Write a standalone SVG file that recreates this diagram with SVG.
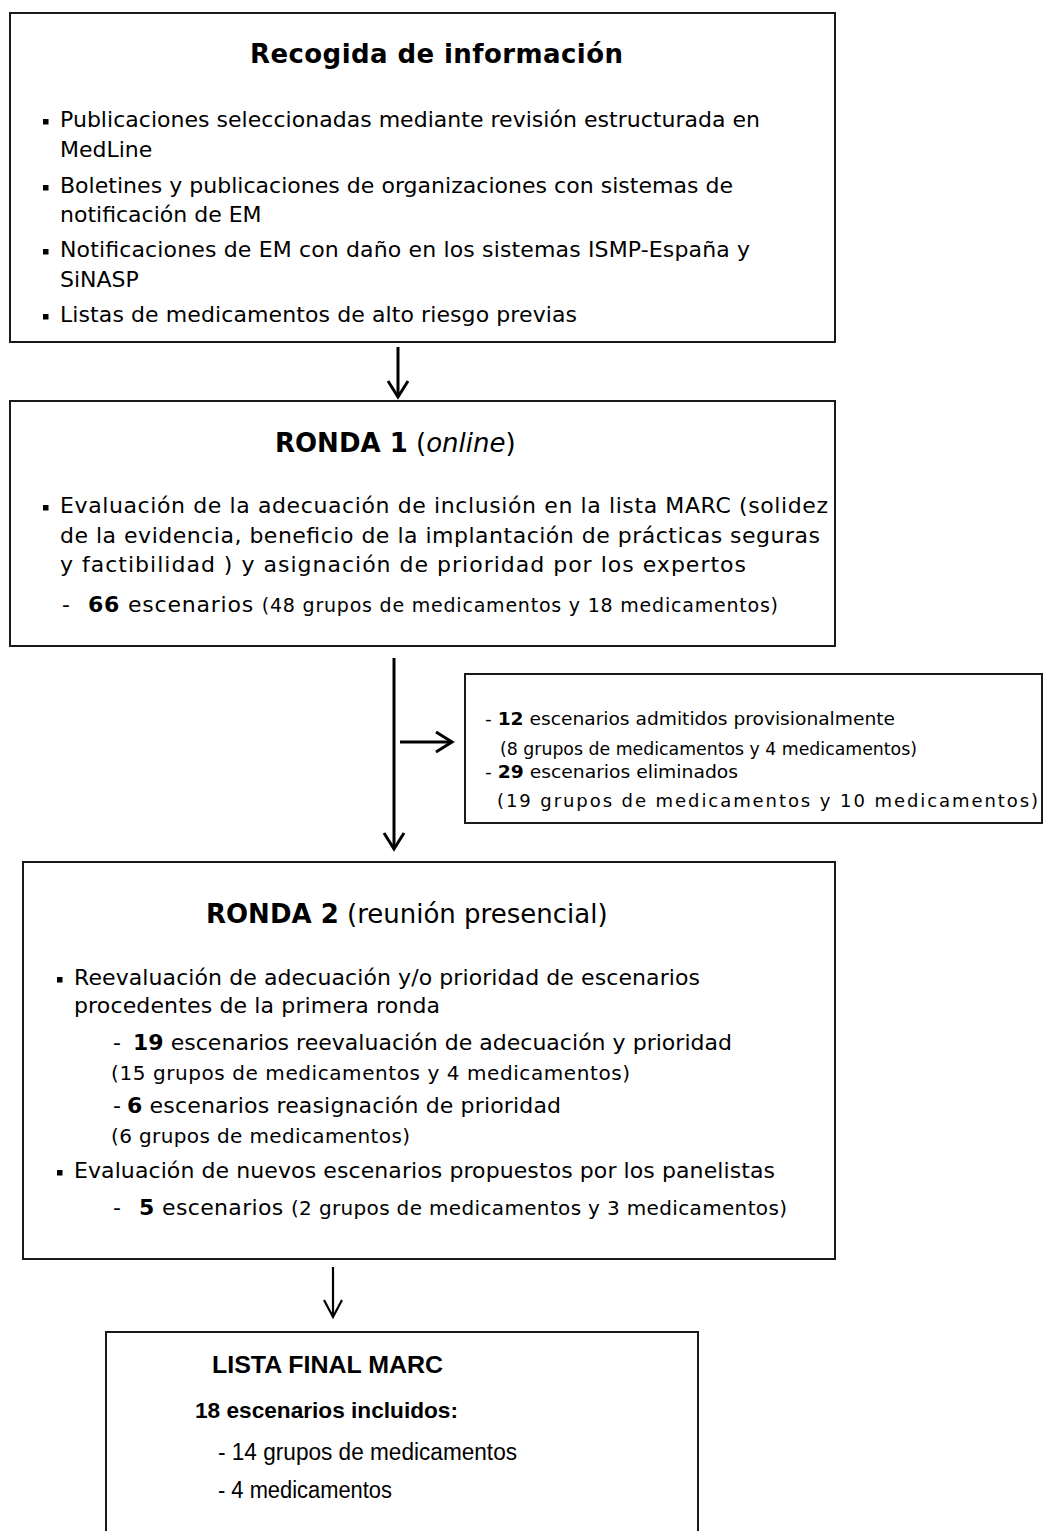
<svg xmlns="http://www.w3.org/2000/svg" width="1043" height="1531" viewBox="0 0 1043 1531">
<style>
.box{fill:#fff;stroke:#1a1a1a;stroke-width:2}
.t{font-family:"DejaVu Sans",Verdana,sans-serif;font-size:22px;fill:#000}
.tb{font-family:"DejaVu Sans",Verdana,sans-serif;font-size:26px;font-weight:bold;fill:#000}
.s{font-size:19px}
.sb{font-size:18px}
.a{font-family:"Liberation Sans",Arial,sans-serif;fill:#000}
.b{font-weight:bold}
.conn{fill:none;stroke:#000;stroke-width:3}
.head{fill:none;stroke:#000;stroke-width:3;stroke-linejoin:miter}
.blt{fill:#000}
</style>
<rect width="1043" height="1531" fill="#fff"/>

<g id="connectors">
  <line class="conn" x1="398" y1="347" x2="398" y2="396"/>
  <polyline class="head" points="388,381 398,397 408,381"/>
  <line class="conn" x1="394" y1="658" x2="394" y2="848"/>
  <polyline class="head" points="384,833 394,849 404,833"/>
  <line class="conn" x1="400" y1="742" x2="451" y2="742"/>
  <polyline class="head" points="436,732 452,742 436,752"/>
  <line class="conn" style="stroke-width:2.2" x1="333" y1="1267" x2="333" y2="1316"/>
  <polyline class="head" style="stroke-width:2.2" points="324,1300 333,1317 342,1300"/>
</g>

<g id="recogida">
  <rect class="box" x="10" y="13" width="825" height="329"/>
  <text class="tb" x="250" y="63" textLength="373">Recogida de información</text>
  <rect class="blt" x="43" y="119" width="5.5" height="5.5"/>
  <text class="t" x="60" y="127" textLength="700">Publicaciones seleccionadas mediante revisión estructurada en</text>
  <text class="t" x="60" y="157">MedLine</text>
  <rect class="blt" x="43" y="185" width="5.5" height="5.5"/>
  <text class="t" x="60" y="193" textLength="673">Boletines y publicaciones de organizaciones con sistemas de</text>
  <text class="t" x="60" y="222">notificación de EM</text>
  <rect class="blt" x="43" y="249" width="5.5" height="5.5"/>
  <text class="t" x="60" y="257" textLength="690">Notificaciones de EM con daño en los sistemas ISMP-España y</text>
  <text class="t" x="60" y="287">SiNASP</text>
  <rect class="blt" x="43" y="314" width="5.5" height="5.5"/>
  <text class="t" x="60" y="322" textLength="517">Listas de medicamentos de alto riesgo previas</text>
</g>

<g id="ronda1">
  <rect class="box" x="10" y="401" width="825" height="245"/>
  <text class="t" x="275" y="452" style="font-size:26px"><tspan font-weight="bold">RONDA 1</tspan> (<tspan font-style="italic">online</tspan>)</text>
  <rect class="blt" x="43" y="505" width="5.5" height="5.5"/>
  <text class="t" x="60" y="513" textLength="768">Evaluación de la adecuación de inclusión en la lista MARC  (solidez</text>
  <text class="t" x="60" y="543" textLength="760">de la evidencia, beneficio de la implantación de prácticas seguras</text>
  <text class="t" x="60" y="572" textLength="686">y factibilidad ) y asignación de prioridad por los expertos</text>
  <text class="t" x="62" y="612">-</text>
  <text class="t" x="88" y="612" textLength="690"><tspan font-weight="bold">66</tspan> escenarios <tspan class="s">(48 grupos de medicamentos y 18 medicamentos)</tspan></text>
</g>

<g id="descartados">
  <rect class="box" x="465" y="674" width="577" height="149"/>
  <text class="t sb" x="485" y="725" textLength="410" lengthAdjust="spacingAndGlyphs">- <tspan font-weight="bold">12</tspan> escenarios admitidos provisionalmente</text>
  <text class="t sb" x="500" y="755" textLength="417" lengthAdjust="spacingAndGlyphs">(8 grupos de medicamentos y 4 medicamentos)</text>
  <text class="t sb" x="485" y="778" textLength="253" lengthAdjust="spacingAndGlyphs">- <tspan font-weight="bold">29</tspan> escenarios eliminados</text>
  <text class="t sb" x="497" y="807" textLength="541">(19 grupos de medicamentos y 10 medicamentos)</text>
</g>

<g id="ronda2">
  <rect class="box" x="23" y="862" width="812" height="397"/>
  <text class="t" x="206" y="923" style="font-size:26px"><tspan font-weight="bold">RONDA 2</tspan> (reunión presencial)</text>
  <rect class="blt" x="57" y="977" width="5.5" height="5.5"/>
  <text class="t" x="74" y="985" textLength="626">Reevaluación de adecuación y/o prioridad de escenarios</text>
  <text class="t" x="74" y="1013" textLength="366">procedentes de la primera ronda</text>
  <text class="t" x="113" y="1050">-</text>
  <text class="t" x="133" y="1050" textLength="599"><tspan font-weight="bold">19</tspan> escenarios reevaluación de adecuación y prioridad</text>
  <text class="t" x="111" y="1080" style="font-size:20px" textLength="519">(15 grupos de medicamentos y  4 medicamentos)</text>
  <text class="t" x="113" y="1113">-</text>
  <text class="t" x="127" y="1113" textLength="434"><tspan font-weight="bold">6</tspan> escenarios reasignación de prioridad</text>
  <text class="t" x="111" y="1143" style="font-size:20px" textLength="299">(6 grupos de medicamentos)</text>
  <rect class="blt" x="57" y="1170" width="5.5" height="5.5"/>
  <text class="t" x="74" y="1178" textLength="701">Evaluación de nuevos escenarios propuestos por los panelistas</text>
  <text class="t" x="113" y="1215">-</text>
  <text class="t" x="139" y="1215" textLength="648"><tspan font-weight="bold">5</tspan> escenarios <tspan style="font-size:20px">(2 grupos de medicamentos y 3 medicamentos)</tspan></text>
</g>

<g id="lista-final">
  <path class="box" d="M106,1535 V1332 H698 V1535"/>
  <text class="a b" x="212" y="1373" style="font-size:24px" textLength="231" lengthAdjust="spacingAndGlyphs">LISTA FINAL MARC</text>
  <text class="a b" x="195" y="1418" style="font-size:22px" textLength="263" lengthAdjust="spacingAndGlyphs">18  escenarios incluidos:</text>
  <text class="a" x="218" y="1460" style="font-size:23px" textLength="299" lengthAdjust="spacingAndGlyphs">- 14  grupos de medicamentos</text>
  <text class="a" x="218" y="1498" style="font-size:23px" textLength="174" lengthAdjust="spacingAndGlyphs">- 4 medicamentos</text>
</g>
</svg>
